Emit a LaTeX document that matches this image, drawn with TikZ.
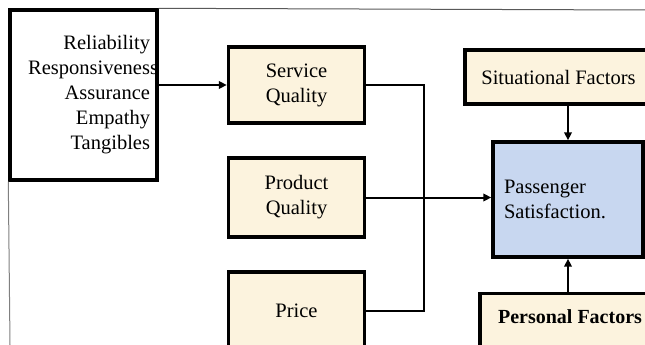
\documentclass[tikz,border=0pt]{standalone}
\usepackage{fontspec}
\setmainfont{Liberation Serif}
\usetikzlibrary{arrows.meta}

\definecolor{cream}{RGB}{252,243,222}
\definecolor{paleblue}{RGB}{200,215,240}

\begin{document}
\begin{tikzpicture}[x=1pt,y=-1pt,font=\fontsize{20.5}{25}\selectfont,
    factor/.style={draw,line width=3.4pt,fill=cream,align=center},
    link/.style={line width=2pt},
    arr/.style={link,-{Triangle[length=8pt,width=7.5pt]}}]
  \useasboundingbox (0,0) rectangle (645,345);
  \begin{scope}
  \clip (0,0) rectangle (645,345);
  % page rules round the cut-out
  \coordinate (topend) at (645,10);
  \coordinate (leftend) at (10,345);
  % dimensions of service quality
  \node[draw,line width=3.4pt,minimum width=147,minimum height=170,
    text width=133,align=right,inner xsep=6] (dims) at (83.5,95)
    {Reliability\\Responsivenes\rlap{s}\\Assurance\\Empathy\\Tangibles};
  \draw[gray!70!black,line width=1pt] (dims.north east) -- (topend);
  \draw[gray,line width=1pt] (dims.south west) -- (leftend);
  % left column
  \node[factor,minimum width=136,minimum height=76] (svc) at (296.5,85)
    {Service\\Quality};
  \node[factor,minimum width=136,minimum height=79] (prod) at (296.5,197.5)
    {Product\\Quality};
  \node[factor,minimum width=136,minimum height=78] (price) at (296.5,311)
    {Price};
  % right column
  \node[factor,minimum width=187,minimum height=54] (sit) at (558.5,77)
    {Situational Factors};
  \node[draw,line width=3.4pt,fill=paleblue,minimum width=150,minimum height=115,
    text width=128,align=left] (pass) at (568,199.5)
    {Passenger\\Satisfaction.};
  \node[factor,anchor=north,minimum width=180,text height=13,text depth=45,
    inner ysep=16.5,font=\fontsize{20}{25}\selectfont\bfseries] (pers) at (570,292)
    {Personal Factors};
  % connectors
  \draw[arr] (dims.east |- svc.west) -- (svc.west);
  \draw[link] (svc.east) -- ++(58,0) |- (price.east);
  \draw[arr] (prod.east) -- (prod.east -| pass.west);
  \draw[arr] (sit.south -| pass.north) -- (pass.north);
  \draw[arr] (pers.north -| pass.south) -- (pass.south);
  \end{scope}
\end{tikzpicture}
\end{document}
